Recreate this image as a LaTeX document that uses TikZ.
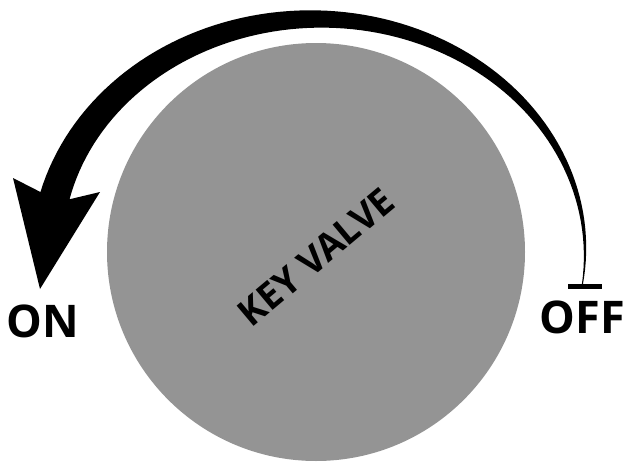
\documentclass[tikz,border=0pt]{standalone}
\usepackage{fontspec}
\setmainfont{Open Sans}
\definecolor{valvegray}{HTML}{949494}
\tikzset{
  lbl/.style={font=\fontsize{45}{45}\selectfont\bfseries, inner sep=0pt, text=black},
  valvelbl/.style={font=\fontsize{37}{37}\selectfont\bfseries, inner sep=0pt, text=black}
}
\begin{document}
\begin{tikzpicture}[x=1pt,y=-1pt]
\useasboundingbox (0,0) rectangle (624,466);
% valve body
\fill[valvegray] (316,252) circle (209);
% tapered arrow
\fill[black]
  plot[domain=-8:166, samples=90] ({316+(269+0.5+14.5*(\x+8)/174)*cos(\x)}, {252-(233+0.5+14.5*(\x+8)/174)*sin(\x)})
  -- (13,178) -- (40,289) -- (100,192)
  -- plot[domain=166:-8, samples=90] ({316+(269-0.5-14.5*(\x+8)/174)*cos(\x)}, {252-(233-0.5-14.5*(\x+8)/174)*sin(\x)})
  -- cycle;
% off marker bar
\fill[black] (568,284) rectangle (602,289);
% labels
\node[lbl, anchor=base west] (on) at (6,337) {ON};
\node[lbl, anchor=base east] (off) at (625,333) {OFF};
\node[valvelbl, rotate=40] (valve) at (316,257) {KEY VALVE};
\end{tikzpicture}
\end{document}
